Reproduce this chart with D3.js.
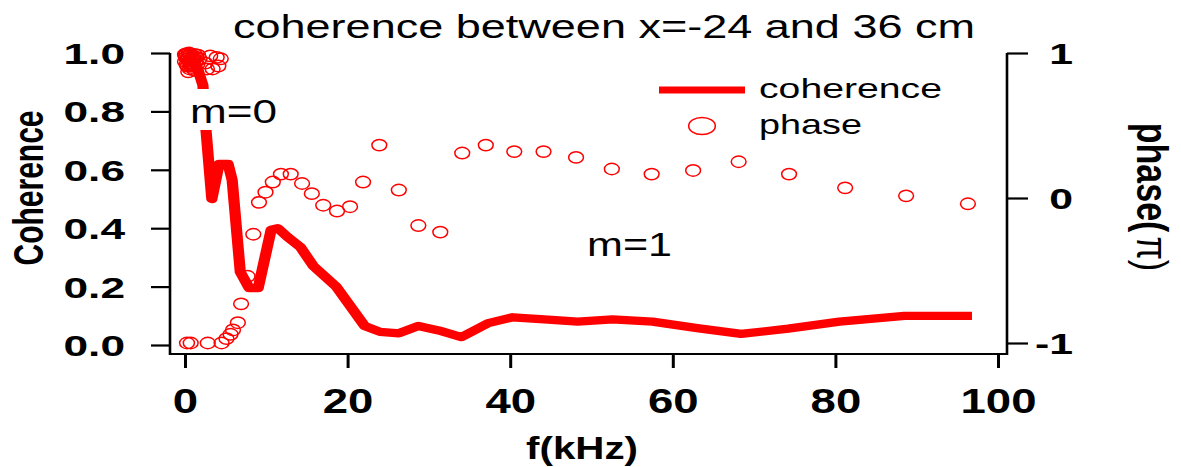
<!DOCTYPE html>
<html><head><meta charset="utf-8">
<script src="https://cdn.jsdelivr.net/npm/d3@7"></script>
<style>body{margin:0;background:#fff} svg{display:block}</style>
</head><body>
<svg id="chart" width="1181" height="467"></svg>
<script>
// ---- data ----
const cohFreq = [0.2,0.8,1.4,2.2,2.6,3.3,4.2,5.3,5.8,6.8,7.9,9.0,10.6,11.4,12.6,14.2,15.8,18.6,22.1,24.0,26.3,28.7,31.2,34.0,37.3,40.3,44.2,48.3,52.6,57.5,63.0,68.4,74.2,80.5,88.5,96.8];
const cohValues = [0.99,0.98,0.96,0.89,0.73,0.50,0.62,0.62,0.565,0.25,0.195,0.195,0.395,0.40,0.37,0.335,0.27,0.20,0.065,0.045,0.04,0.065,0.05,0.027,0.075,0.095,0.088,0.08,0.088,0.08,0.058,0.038,0.056,0.08,0.10,0.10];

const phaseFreq = [0.0,0.1,0.2,0.3,0.4,0.5,0.6,0.7,0.8,0.9,1.0,1.1,1.2,1.3,1.4,0.3,0.6,1.5,
  0.0,0.2,0.5,0.8,1.0,1.2,0.4,0.9,1.6,1.8,0.1,0.7,
  3.1,3.9,4.4,4.1,3.4,2.7,2.5,
  0.25,0.7,2.8,4.5,5.1,5.6,5.9,6.5,6.9,7.7,8.4,9.1,9.9,10.8,11.8,13.0,14.4,15.6,17.0,18.7,20.3,21.9,23.9,26.3,28.7,31.4,34.1,37.0,40.5,44.1,48.1,52.5,57.4,62.5,68.1,74.3,81.2,88.7,96.3];
const phaseValues = [0.99,0.97,0.995,0.96,0.98,1.0,0.95,0.99,0.97,0.93,0.98,0.96,0.99,0.94,0.97,0.91,0.89,0.92,
  0.94,0.92,0.93,0.90,0.91,0.88,0.87,0.95,0.985,0.96,0.985,0.92,
  0.98,0.97,0.96,0.91,0.89,0.89,0.93,
  -1.0,-1.0,-1.0,-1.0,-0.97,-0.94,-0.91,-0.86,-0.73,-0.54,-0.25,-0.03,0.04,0.11,0.165,0.165,0.10,0.03,-0.05,-0.09,-0.06,0.11,0.365,0.055,-0.19,-0.235,0.31,0.365,0.32,0.32,0.28,0.20,0.165,0.19,0.25,0.165,0.07,0.015,-0.04];

const xTickValues = [0,20,40,60,80,100];
const cohTickValues = [0,0.2,0.4,0.6,0.8,1.0];
const phaseTickValues = [-1,0,1];
const titleText = "coherence between x=-24 and 36 cm";
const xLabel = "f(kHz)";
const yLabel = "Coherence";
const legendLabels = ["coherence","phase"];
const annotations = ["m=0","m=1"];

// ---- drawing ----
const FONT = "'Liberation Sans', Arial, Helvetica, sans-serif";
const RED = "#ff0000";
const svg = d3.select("#chart");
svg.append("rect").attr("width",1181).attr("height",467).attr("fill","#fff");

const x = d3.scaleLinear().domain([0,100]).range([185,998]);
const yC = d3.scaleLinear().domain([0,1]).range([345,53]);
const yP = d3.scaleLinear().domain([-1,1]).range([343,53]);

// frame lines
const frame = svg.append("g").attr("stroke","#000").attr("fill","none");
frame.append("line").attr("x1",170).attr("x2",170).attr("y1",53).attr("y2",355).attr("stroke-width",2.6);
frame.append("line").attr("x1",1007).attr("x2",1007).attr("y1",53).attr("y2",355).attr("stroke-width",2.6);
frame.append("line").attr("x1",169).attr("x2",1008).attr("y1",354).attr("y2",354).attr("stroke-width",2.2);

// axes
const gx = svg.append("g").attr("transform","translate(0,355)")
  .call(d3.axisBottom(x).tickValues(xTickValues).tickSize(13).tickSizeOuter(0).tickFormat(d3.format("d")));
gx.select(".domain").remove();
gx.selectAll(".tick line").attr("stroke","#000").attr("stroke-width",3);
gx.selectAll(".tick text").attr("y",null).attr("dy",null)
  .attr("transform","translate(0,58) scale(1.3,1)")
  .attr("font-family",FONT).attr("font-weight","bold").attr("font-size",35).attr("fill","#000");

const gl = svg.append("g").attr("transform","translate(170,0)")
  .call(d3.axisLeft(yC).tickValues(cohTickValues).tickSize(19).tickSizeOuter(0).tickFormat(d3.format(".1f")));
gl.select(".domain").remove();
gl.selectAll(".tick line").attr("stroke","#000").attr("stroke-width",2.2);
gl.selectAll(".tick text").attr("x",0).attr("dy",null).attr("y",10.5)
  .attr("transform","translate(-45,0) scale(1.5,1)")
  .attr("font-family",FONT).attr("font-weight","bold").attr("font-size",29.5).attr("fill","#000");

const gr = svg.append("g").attr("transform","translate(1007,0)")
  .call(d3.axisRight(yP).tickValues(phaseTickValues).tickSize(21).tickSizeOuter(0).tickFormat(d => String(d)));
gr.select(".domain").remove();
gr.selectAll(".tick line").attr("stroke","#000").attr("stroke-width",2.2);
gr.selectAll(".tick text").attr("x",0).attr("dy",null).attr("y",10.5)
  .attr("text-anchor","end")
  .attr("transform","translate(66,0) scale(1.45,1)")
  .attr("font-family",FONT).attr("font-weight","bold").attr("font-size",29.5).attr("fill","#000");

// phase markers
const phaseData = phaseFreq.map((f,i)=>({f, p: phaseValues[i]}));
svg.append("g").selectAll("ellipse").data(phaseData).join("ellipse")
  .attr("cx",d=>x(d.f)).attr("cy",d=>yP(d.p))
  .attr("rx",7.4).attr("ry",5.7)
  .attr("fill","none").attr("stroke",RED).attr("stroke-width",1.5);

// coherence line (drawn in horizontally stretched frame like the reference)
const SX = 1.35;
const cohData = cohFreq.map((f,i)=>({f, c: cohValues[i]}));
const line = d3.line().x(d=>x(d.f)/SX).y(d=>yC(d.c));
svg.append("g").attr("transform",`scale(${SX},1)`)
  .append("path").datum(cohData).attr("d",line)
  .attr("fill","none").attr("stroke",RED).attr("stroke-width",8.3)
  .attr("stroke-linejoin","round").attr("stroke-linecap","butt");

// legend
svg.append("line").attr("x1",659).attr("x2",745).attr("y1",90).attr("y2",90)
  .attr("stroke",RED).attr("stroke-width",7);
svg.append("ellipse").attr("cx",702).attr("cy",126).attr("rx",13.3).attr("ry",8.6)
  .attr("fill","none").attr("stroke",RED).attr("stroke-width",1.5);

function txt(s, xx, yy, size, len, weight){
  return svg.append("text").attr("x",xx).attr("y",yy).text(s)
    .attr("font-family",FONT).attr("font-size",size).attr("font-weight",weight||"normal")
    .attr("fill","#000").attr("textLength",len).attr("lengthAdjust","spacingAndGlyphs");
}
txt(legendLabels[0], 759, 98, 28, 183);
txt(legendLabels[1], 759, 134, 28, 103);
txt(titleText, 233, 38, 34, 742);
// opaque annotation box (hides the line behind "m=0" as in the reference)
svg.append("rect").attr("x",186).attr("y",89).attr("width",96).attr("height",41).attr("fill","#fff");
txt(annotations[0], 190, 123, 34, 87);
txt(annotations[1], 587, 256, 34, 85);
svg.append("text").text(xLabel)
  .attr("font-family",FONT).attr("font-weight","bold").attr("font-size",31).attr("fill","#000")
  .attr("text-anchor","middle")
  .attr("transform","translate(582,459) scale(1.3,1)");

// y labels
svg.append("text").text(yLabel)
  .attr("font-family",FONT).attr("font-weight","bold").attr("font-size",30).attr("fill","#000")
  .attr("text-anchor","middle")
  .attr("transform","translate(43,188) scale(1.4,1) rotate(-90)");

const pl = svg.append("text")
  .attr("font-family",FONT).attr("font-size",34).attr("fill","#000")
  .attr("text-anchor","middle")
  .attr("transform","translate(1137,197) scale(1.3,1) rotate(90)");
pl.append("tspan").attr("font-weight","bold").text("phase(");
pl.append("tspan").attr("dx",4).text("π)");
</script>
</body></html>
